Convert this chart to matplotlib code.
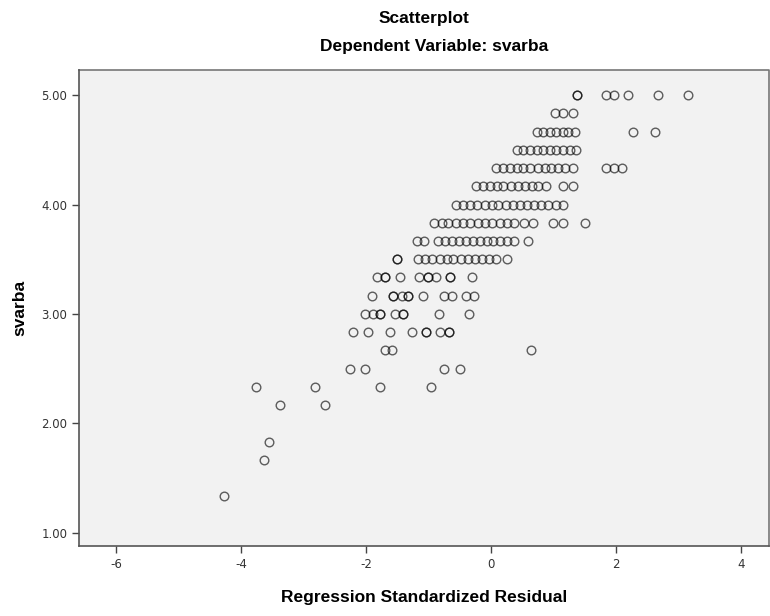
import numpy as np
import matplotlib
matplotlib.use('Agg')
import matplotlib.pyplot as plt

plt.rcParams['axes.unicode_minus'] = False

rows = {
    30 / 6: [1.385, 1.385, 1.85, 1.97, 2.20, 2.68, 3.15],
    29 / 6: [1.02, 1.16, 1.31],
    28 / 6: [0.73, 0.83, 0.94, 1.04, 1.15, 1.24, 1.35, 2.28, 2.63],
    27 / 6: [0.41, 0.52, 0.62, 0.73, 0.84, 0.94, 1.05, 1.15, 1.26, 1.37],
    26 / 6: [0.08, 0.19, 0.30, 0.41, 0.52, 0.63, 0.75, 0.86, 0.97, 1.08, 1.19, 1.31,
             1.85, 1.97, 2.10],
    25 / 6: [-0.24, -0.13, -0.02, 0.09, 0.20, 0.32, 0.43, 0.54, 0.65, 0.76, 0.88,
             1.16, 1.31],
    24 / 6: [-0.56, -0.45, -0.33, -0.22, -0.10, 0.01, 0.12, 0.24, 0.35, 0.47, 0.58,
             0.69, 0.81, 0.92, 1.04, 1.15],
    23 / 6: [-0.91, -0.79, -0.68, -0.56, -0.45, -0.33, -0.21, -0.10, 0.02, 0.14,
             0.25, 0.37, 0.53, 0.67, 1.00, 1.15, 1.50],
    22 / 6: [-1.19, -1.07, -0.84, -0.73, -0.62, -0.51, -0.40, -0.29, -0.18, -0.07,
             0.04, 0.15, 0.26, 0.37, 0.59],
    21 / 6: [-1.51, -1.51, -1.16, -1.05, -0.94, -0.82, -0.71, -0.60, -0.48, -0.37,
             -0.26, -0.14, -0.03, 0.08, 0.25],
    20 / 6: [-1.83, -1.70, -1.70, -1.46, -1.15, -1.00, -1.00, -0.88, -0.65, -0.65, -0.30],
    19 / 6: [-1.91, -1.56, -1.56, -1.43, -1.32, -1.32, -1.08, -0.75, -0.62, -0.40, -0.27],
    18 / 6: [-2.01, -1.88, -1.77, -1.77, -1.54, -1.40, -1.40, -0.83, -0.35],
    17 / 6: [-2.20, -1.96, -1.62, -1.26, -1.04, -1.04, -0.81, -0.67, -0.67],
    16 / 6: [-1.70, -1.58, 0.64],
    15 / 6: [-2.26, -2.02, -0.75, -0.49],
    14 / 6: [-3.76, -2.82, -1.78, -0.96],
    13 / 6: [-3.38, -2.66],
    11 / 6: [-3.55],
    10 / 6: [-3.63],
    8 / 6: [-4.27],
}

resid = np.concatenate([np.array(v) for v in rows.values()])
svarba = np.concatenate([np.full(len(v), k) for k, v in rows.items()])

x_ticks = [-6, -4, -2, 0, 2, 4]
y_ticks = [1.0, 2.0, 3.0, 4.0, 5.0]

label_font = ['Liberation Sans', 'DejaVu Sans']

fig = plt.figure(figsize=(7.7, 6.16), dpi=100)
ax = fig.add_axes([0.1026, 0.114, 0.8961, 0.7724])
ax.set_facecolor('#f2f2f2')

ax.plot(resid, svarba, linestyle='none', marker='o', markersize=6.2,
        markerfacecolor='none', markeredgecolor=(0, 0, 0, 0.62), markeredgewidth=1.0)

ax.set_xlim(-6.59, 4.45)
ax.set_ylim(0.88, 5.23)
ax.set_xticks(x_ticks)
ax.set_yticks(y_ticks)
ax.set_yticklabels(['%.2f' % v for v in y_ticks])
ax.tick_params(direction='out', length=5, width=1, color='#444444',
               labelsize=8.5, labelcolor='#333333')

for side in ['top', 'right']:
    ax.spines[side].set_visible(False)
for side in ['left', 'bottom']:
    ax.spines[side].set_color('#555555')
    ax.spines[side].set_linewidth(1.2)
# thin frame on top and right
ax.plot([0, 1, 1], [1, 1, 0], transform=ax.transAxes, color='#777777', lw=1.2, clip_on=False)

ax.set_xlabel('Regression Standardized Residual', family=label_font, fontsize=12.5,
              fontweight='bold', labelpad=14)
ax.set_ylabel('svarba', family=label_font, fontsize=12.5, fontweight='bold', labelpad=10)

fig.text(0.551, 0.97, 'Scatterplot', family=label_font, fontsize=12.5, fontweight='bold',
         ha='center', va='center')
fig.text(0.564, 0.925, 'Dependent Variable: svarba', family=label_font, fontsize=12.5,
         fontweight='bold', ha='center', va='center')

plt.savefig('out.png', dpi=100)
